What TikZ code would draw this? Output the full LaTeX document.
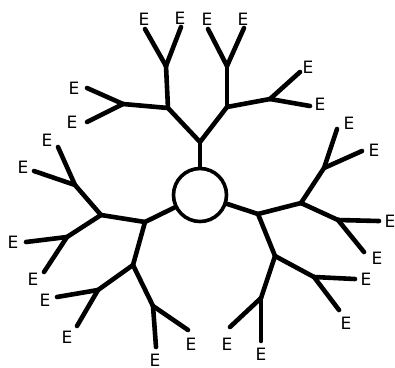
\documentclass[tikz,border=0pt]{standalone}
\usepackage{fontspec}
\setmainfont{DejaVu Sans}
\begin{document}
\begin{tikzpicture}[x=1pt,y=-1pt,
  edge/.style={line width=4.6pt,line cap=round,line join=round},
  lab/.style={inner sep=0pt,font=\fontsize{17}{17}\selectfont},
  hub/.style={circle,draw,line width=3.6pt,minimum size=53pt,inner sep=0pt}]
\useasboundingbox (0,0) rectangle (395,367);
\node[hub] (c) at (200,195) {};
% internal nodes
\coordinate (A) at (200,142);
\coordinate (B) at (168,108);
\coordinate (C) at (227,107);
\coordinate (D) at (166,66);
\coordinate (F) at (123,104);
\coordinate (G) at (227,66);
\coordinate (H) at (270,99);
\coordinate (I) at (145,222);
\coordinate (J) at (101,215);
\coordinate (K) at (133,265);
\coordinate (L) at (75,185);
\coordinate (M) at (67,237);
\coordinate (N) at (98,290);
\coordinate (O) at (153,306);
\coordinate (P) at (258,214);
\coordinate (Q) at (301,203);
\coordinate (R) at (275,256);
\coordinate (S) at (324,168);
\coordinate (T) at (338,220);
\coordinate (U) at (314,277);
\coordinate (V) at (261,298);
% leaf ends
\coordinate (d1) at (145,29); \coordinate (d2) at (181,27);
\coordinate (f1) at (87,88);  \coordinate (f2) at (87,122);
\coordinate (g1) at (208,29); \coordinate (g2) at (244,28);
\coordinate (h1) at (300,72); \coordinate (h2) at (310,106);
\coordinate (l1) at (58,147); \coordinate (l2) at (34,171);
\coordinate (m1) at (26,242); \coordinate (m2) at (44,272);
\coordinate (n1) at (57,297); \coordinate (n2) at (77,326);
\coordinate (o1) at (156,347); \coordinate (o2) at (188,330);
\coordinate (s1) at (337,129); \coordinate (s2) at (362,151);
\coordinate (t1) at (379,221); \coordinate (t2) at (364,252);
\coordinate (u1) at (355,279); \coordinate (u2) at (339,310);
\coordinate (v1) at (230,327); \coordinate (v2) at (261,341);
% labels
\node[lab] (ed1) at (144,19) {E};
\node[lab] (ed2) at (180,18) {E};
\node[lab] (ef1) at (74,88) {E};
\node[lab] (ef2) at (72,122) {E};
\node[lab] (eg1) at (207,19) {E};
\node[lab] (eg2) at (243,19) {E};
\node[lab] (eh1) at (308,67) {E};
\node[lab] (eh2) at (320,104) {E};
\node[lab] (el1) at (47,140) {E};
\node[lab] (el2) at (23,167) {E};
\node[lab] (em1) at (13,242) {E};
\node[lab] (em2) at (33,279) {E};
\node[lab] (en1) at (45,300) {E};
\node[lab] (en2) at (67,337) {E};
\node[lab] (eo1) at (155,360) {E};
\node[lab] (eo2) at (191,344) {E};
\node[lab] (es1) at (349,123) {E};
\node[lab] (es2) at (374,150) {E};
\node[lab] (et1) at (390,221) {E};
\node[lab] (et2) at (377,258) {E};
\node[lab] (eu1) at (366,279) {E};
\node[lab] (eu2) at (346,323) {E};
\node[lab] (ev1) at (227,344) {E};
\node[lab] (ev2) at (261,354) {E};
% connectors
\draw[edge] (c) -- (A);
\draw[edge] (A) -- (B); \draw[edge] (A) -- (C);
\draw[edge] (B) -- (D); \draw[edge] (B) -- (F);
\draw[edge] (C) -- (G); \draw[edge] (C) -- (H);
\draw[edge] (D) -- (d1); \draw[edge] (D) -- (d2);
\draw[edge] (F) -- (f1); \draw[edge] (F) -- (f2);
\draw[edge] (G) -- (g1); \draw[edge] (G) -- (g2);
\draw[edge] (H) -- (h1); \draw[edge] (H) -- (h2);
\draw[edge] (c) -- (I);
\draw[edge] (I) -- (J); \draw[edge] (I) -- (K);
\draw[edge] (J) -- (L); \draw[edge] (J) -- (M);
\draw[edge] (K) -- (N); \draw[edge] (K) -- (O);
\draw[edge] (L) -- (l1); \draw[edge] (L) -- (l2);
\draw[edge] (M) -- (m1); \draw[edge] (M) -- (m2);
\draw[edge] (N) -- (n1); \draw[edge] (N) -- (n2);
\draw[edge] (O) -- (o1); \draw[edge] (O) -- (o2);
\draw[edge] (c) -- (P);
\draw[edge] (P) -- (Q); \draw[edge] (P) -- (R);
\draw[edge] (Q) -- (S); \draw[edge] (Q) -- (T);
\draw[edge] (R) -- (U); \draw[edge] (R) -- (V);
\draw[edge] (S) -- (s1); \draw[edge] (S) -- (s2);
\draw[edge] (T) -- (t1); \draw[edge] (T) -- (t2);
\draw[edge] (U) -- (u1); \draw[edge] (U) -- (u2);
\draw[edge] (V) -- (v1); \draw[edge] (V) -- (v2);
\end{tikzpicture}
\end{document}
